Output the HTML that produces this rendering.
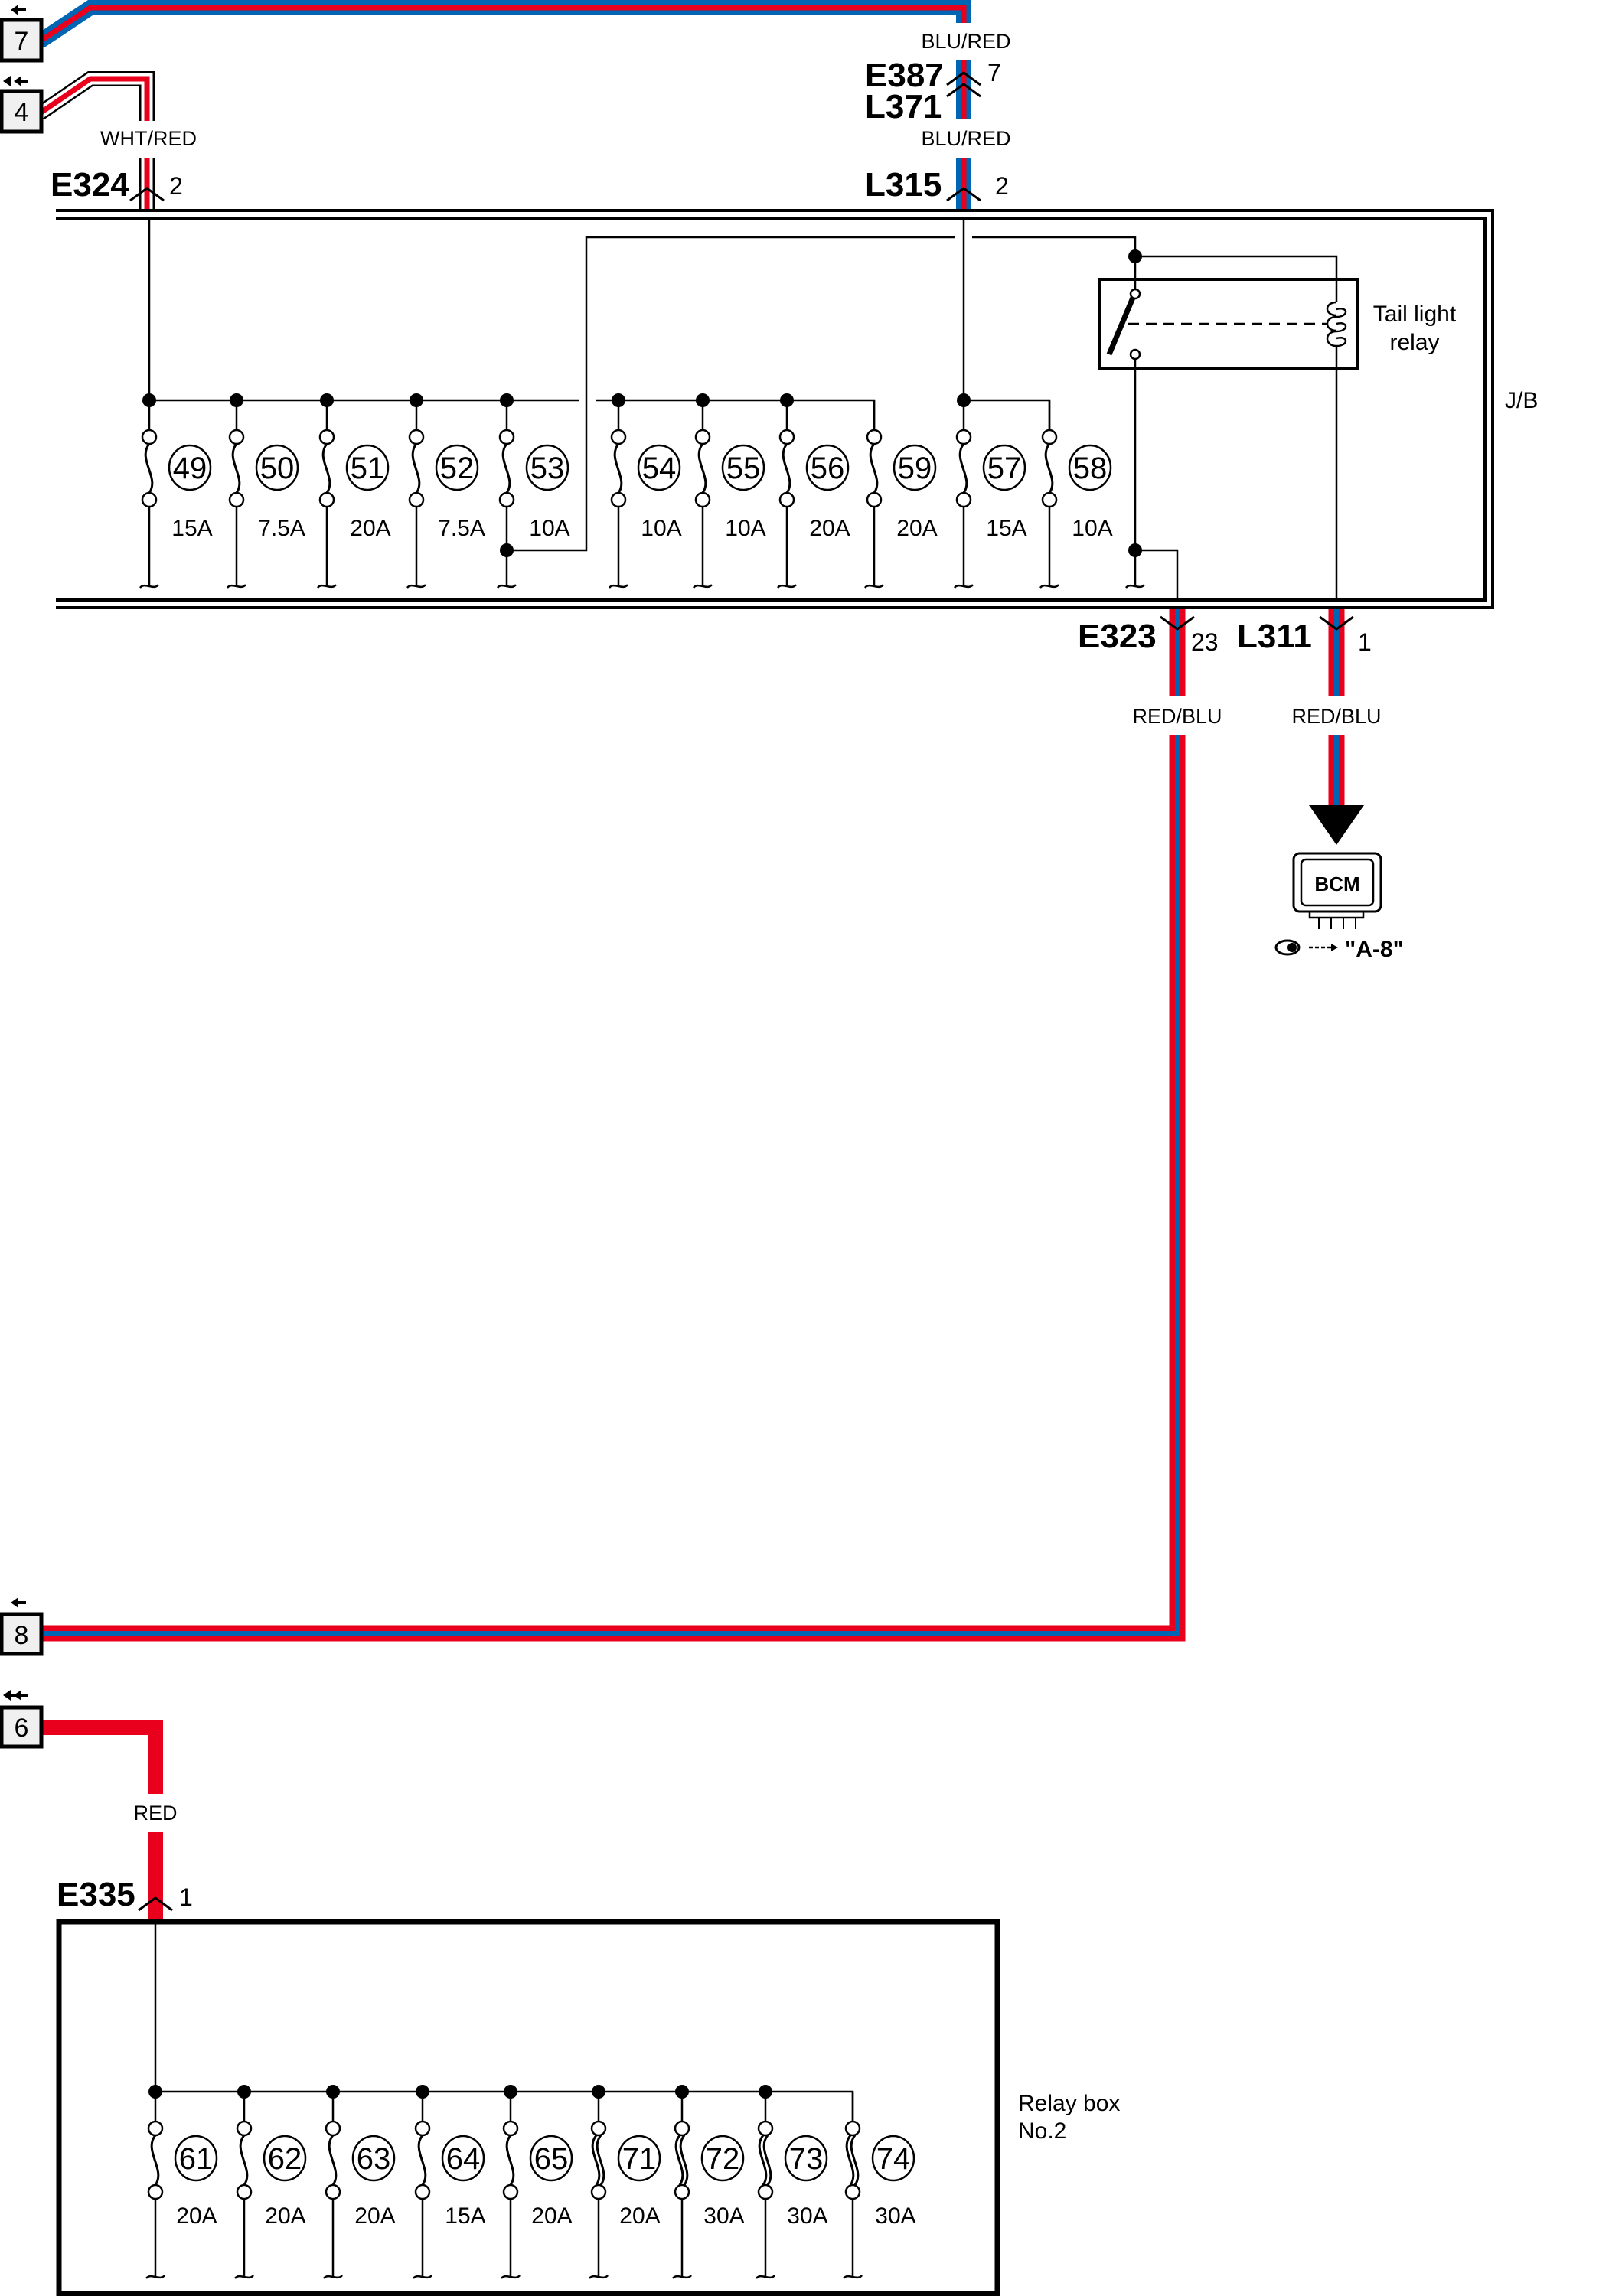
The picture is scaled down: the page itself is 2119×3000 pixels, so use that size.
<!DOCTYPE html>
<html><head><meta charset="utf-8"><style>
html,body{margin:0;padding:0;background:#fff}
svg{display:block}
text{font-family:"Liberation Sans",sans-serif;fill:#000}
</style></head><body>
<svg width="2119" height="3000" viewBox="0 0 2119 3000" xmlns="http://www.w3.org/2000/svg">
<defs>
<g id="fuse">
<line x1="0" y1="523" x2="0" y2="562" stroke="#000" stroke-width="2.5"/>
<path d="M0,580 C-16,600 14,624 0,644" fill="none" stroke="#000" stroke-width="3"/>
<circle cx="0" cy="571" r="9" fill="#fff" stroke="#000" stroke-width="2.5"/>
<circle cx="0" cy="653" r="9" fill="#fff" stroke="#000" stroke-width="2.5"/>
<line x1="0" y1="662" x2="0" y2="765" stroke="#000" stroke-width="2.5"/>
<path d="M-12,768 C-6,760 6,772 12,764" fill="none" stroke="#000" stroke-width="2.5"/>
<ellipse cx="53" cy="611" rx="27" ry="29" fill="#fff" stroke="#000" stroke-width="2.5"/>
</g>
<g id="fuse2">
<line x1="0" y1="2733" x2="0" y2="2772" stroke="#000" stroke-width="2.5"/>
<path d="M0,2790 C-16,2810 14,2835 0,2855" fill="none" stroke="#000" stroke-width="3"/>
<circle cx="0" cy="2781" r="9" fill="#fff" stroke="#000" stroke-width="2.5"/>
<circle cx="0" cy="2864" r="9" fill="#fff" stroke="#000" stroke-width="2.5"/>
<line x1="0" y1="2873" x2="0" y2="2974" stroke="#000" stroke-width="2.5"/>
<path d="M-12,2977 C-6,2969 6,2981 12,2973" fill="none" stroke="#000" stroke-width="2.5"/>
<ellipse cx="53" cy="2820" rx="27" ry="29" fill="#fff" stroke="#000" stroke-width="2.5"/>
</g>
<g id="fuse3">
<line x1="0" y1="2733" x2="0" y2="2772" stroke="#000" stroke-width="2.5"/>
<path d="M-3,2790 C-19,2810 11,2835 -3,2855 M3,2790 C-13,2810 17,2835 3,2855" fill="none" stroke="#000" stroke-width="3"/>
<circle cx="0" cy="2781" r="9" fill="#fff" stroke="#000" stroke-width="2.5"/>
<circle cx="0" cy="2864" r="9" fill="#fff" stroke="#000" stroke-width="2.5"/>
<line x1="0" y1="2873" x2="0" y2="2974" stroke="#000" stroke-width="2.5"/>
<path d="M-12,2977 C-6,2969 6,2981 12,2973" fill="none" stroke="#000" stroke-width="2.5"/>
<ellipse cx="53" cy="2820" rx="27" ry="29" fill="#fff" stroke="#000" stroke-width="2.5"/>
</g>
</defs>

<g fill="none" stroke-linejoin="miter">
<path d="M52,54 L118,10 L1259,10 L1259,30" stroke="#0066b3" stroke-width="20"/>
<path d="M52,54 L118,10 L1259,10 L1259,30" stroke="#e8001c" stroke-width="7"/>
<path d="M1259,79 V156 M1259,207 V274" stroke="#0066b3" stroke-width="20"/>
<path d="M1259,79 V156 M1259,207 V274" stroke="#e8001c" stroke-width="7"/>
<path d="M52,148 L118,103 L192,103 L192,158 M192,207 V274" stroke="#000" stroke-width="20"/>
<path d="M52,148 L118,103 L192,103 L192,158 M192,207 V274" stroke="#fff" stroke-width="15"/>
<path d="M52,148 L118,103 L192,103 L192,158 M192,207 V274" stroke="#e8001c" stroke-width="7"/>
<path d="M1538,794 V910 M1538,960 V2134 H55" stroke="#e8001c" stroke-width="21"/>
<path d="M1538,794 V910 M1538,960 V2134 H55" stroke="#0066b3" stroke-width="6"/>
<path d="M1746,794 V910 M1746,960 V1052" stroke="#e8001c" stroke-width="21"/>
<path d="M1746,794 V910 M1746,960 V1052" stroke="#0066b3" stroke-width="6"/>
<path d="M55,2257 H203 V2344 M203,2394 V2512" stroke="#e8001c" stroke-width="20"/>
</g>

<g fill="#f0f0f0" stroke="#000" stroke-width="5">
<rect x="2" y="26" width="52" height="53"/>
<rect x="2" y="119" width="52" height="53"/>
<rect x="2" y="2109" width="52" height="52"/>
<rect x="2" y="2231" width="52" height="51"/>
</g>
<g font-size="34" text-anchor="middle">
<text x="28" y="65">7</text><text x="28" y="158">4</text>
<text x="28" y="2148">8</text><text x="28" y="2269">6</text>
</g>
<g fill="#000">
<path d="M14,13 l10,-7 v5 h10 v4 h-10 v5z"/>
<path d="M14,2094 l10,-7 v5 h10 v4 h-10 v5z"/>
<path d="M4,2215 l10,-7 v14z M18,2215 l10,-7 v14z M14,2213 h22 v4 h-22z"/>
<path d="M4,106 l10,-7 v14z M18,106 l10,-7 v14z M24,104 h12 v4 h-12z"/>
</g>

<g font-size="27" text-anchor="middle">
<text x="1262" y="63">BLU/RED</text>
<text x="1262" y="190">BLU/RED</text>
<text x="194" y="190">WHT/RED</text>
<text x="1538" y="945">RED/BLU</text>
<text x="1746" y="945">RED/BLU</text>
<text x="203" y="2378">RED</text>
</g>
<g font-size="44" font-weight="bold">
<text x="1130" y="113">E387</text>
<text x="1130" y="154">L371</text>
<text x="66" y="256">E324</text>
<text x="1130" y="256">L315</text>
<text x="1408" y="846">E323</text>
<text x="1616" y="846">L311</text>
<text x="74" y="2490">E335</text>
</g>
<g font-size="32">
<text x="1290" y="106">7</text>
<text x="221" y="254">2</text>
<text x="1300" y="254">2</text>
<text x="1556" y="850">23</text>
<text x="1774" y="850">1</text>
<text x="234" y="2490">1</text>
</g>
<g fill="none" stroke="#000" stroke-width="3">
<path d="M1237,111 L1259,95 L1281,111 M1237,126 L1259,110 L1281,126"/>
<path d="M170,262 L192,246 L214,262"/>
<path d="M1237,262 L1259,246 L1281,262"/>
<path d="M1516,806 L1538,822 L1560,806"/>
<path d="M1724,806 L1746,822 L1768,806"/>
<path d="M181,2496 L203,2480 L225,2496"/>
</g>

<g fill="none" stroke="#000" stroke-width="4">
<path d="M73,275 H1950 V794 H73"/>
<path d="M73,285 H1940 V784 H73"/>
</g>
<text x="1966" y="533" font-size="30">J/B</text>

<g fill="none" stroke="#000" stroke-width="2.5">
<path d="M195,285 V523 H757 M779,523 H1142 V562"/>
<path d="M1259,285 V523 H1371 V562"/>
<path d="M662,719 H766 V310 H1248 M1270,310 H1483 V384"/>
<path d="M1483,335 H1746 V395 M1746,452 V784"/>
<path d="M1483,463 V765 M1483,719 H1538 V784"/>
<path d="M1471,768 C1477,760 1489,772 1495,764"/>
</g>
<g fill="#000">
<circle cx="195" cy="523" r="9"/><circle cx="309" cy="523" r="9"/><circle cx="427" cy="523" r="9"/>
<circle cx="544" cy="523" r="9"/><circle cx="662" cy="523" r="9"/><circle cx="808" cy="523" r="9"/>
<circle cx="918" cy="523" r="9"/><circle cx="1028" cy="523" r="9"/><circle cx="1259" cy="523" r="9"/>
<circle cx="662" cy="719" r="9"/><circle cx="1483" cy="335" r="9"/><circle cx="1483" cy="719" r="9"/>
</g>
<use href="#fuse" x="195"/><use href="#fuse" x="309"/><use href="#fuse" x="427"/><use href="#fuse" x="544"/>
<use href="#fuse" x="662"/><use href="#fuse" x="808"/><use href="#fuse" x="918"/><use href="#fuse" x="1028"/>
<use href="#fuse" x="1142"/><use href="#fuse" x="1259"/><use href="#fuse" x="1371"/>
<g font-size="40" text-anchor="middle">
<text x="248" y="625">49</text><text x="362" y="625">50</text><text x="480" y="625">51</text><text x="597" y="625">52</text>
<text x="715" y="625">53</text><text x="861" y="625">54</text><text x="971" y="625">55</text><text x="1081" y="625">56</text>
<text x="1195" y="625">59</text><text x="1312" y="625">57</text><text x="1424" y="625">58</text>
</g>
<g font-size="30" text-anchor="middle">
<text x="251" y="700">15A</text><text x="368" y="700">7.5A</text><text x="484" y="700">20A</text><text x="603" y="700">7.5A</text>
<text x="718" y="700">10A</text><text x="864" y="700">10A</text><text x="974" y="700">10A</text><text x="1084" y="700">20A</text>
<text x="1198" y="700">20A</text><text x="1315" y="700">15A</text><text x="1427" y="700">10A</text>
</g>

<rect x="1436" y="365" width="337" height="117" fill="none" stroke="#000" stroke-width="4"/>
<line x1="1449" y1="463" x2="1480" y2="389" stroke="#000" stroke-width="7"/>
<line x1="1474" y1="423" x2="1734" y2="423" stroke="#000" stroke-width="2.5" stroke-dasharray="14,9"/>
<circle cx="1483" cy="384" r="6" fill="#fff" stroke="#000" stroke-width="2.5"/>
<circle cx="1483" cy="463" r="6" fill="#fff" stroke="#000" stroke-width="2.5"/>
<g fill="none" stroke="#000" stroke-width="2.5">
<path d="M1746,395 C1730,395 1730,412 1746,412 M1746,404 C1762,400 1762,414 1746,414 C1730,414 1730,432 1746,432 M1746,423 C1762,419 1762,433 1746,433 C1730,433 1730,452 1746,452 M1746,442 C1762,438 1762,452 1746,452"/>
</g>
<g font-size="30" text-anchor="middle">
<text x="1848" y="420">Tail light</text>
<text x="1848" y="457">relay</text>
</g>

<path d="M1710,1052 H1782 L1746,1104Z" fill="#000"/>
<rect x="1690" y="1115" width="114" height="76" rx="8" fill="#fff" stroke="#000" stroke-width="3"/>
<rect x="1700" y="1123" width="94" height="60" rx="6" fill="none" stroke="#000" stroke-width="2.5"/>
<rect x="1711" y="1191" width="70" height="8" fill="none" stroke="#000" stroke-width="2.5"/>
<g stroke="#000" stroke-width="2"><line x1="1723" y1="1199" x2="1723" y2="1214"/><line x1="1739" y1="1199" x2="1739" y2="1214"/><line x1="1755" y1="1199" x2="1755" y2="1214"/><line x1="1771" y1="1199" x2="1771" y2="1214"/></g>
<text x="1747" y="1164" font-size="26" font-weight="bold" text-anchor="middle">BCM</text>
<ellipse cx="1682" cy="1238" rx="15" ry="9" fill="none" stroke="#000" stroke-width="3"/>
<circle cx="1688" cy="1238" r="6" fill="#000"/>
<line x1="1710" y1="1238" x2="1740" y2="1238" stroke="#000" stroke-width="2.5" stroke-dasharray="5,3"/>
<path d="M1739,1233 L1748,1238 L1739,1243Z" fill="#000"/>
<text x="1757" y="1250" font-size="30" font-weight="bold">"A-8"</text>

<rect x="77" y="2511" width="1226" height="486" fill="none" stroke="#000" stroke-width="7"/>
<text x="1330" y="2758" font-size="30">Relay box</text>
<text x="1330" y="2794" font-size="30">No.2</text>
<g fill="none" stroke="#000" stroke-width="2.5"><path d="M203,2514 V2733 H1114 V2772"/></g>
<g fill="#000">
<circle cx="203" cy="2733" r="9"/><circle cx="319" cy="2733" r="9"/><circle cx="435" cy="2733" r="9"/>
<circle cx="552" cy="2733" r="9"/><circle cx="667" cy="2733" r="9"/><circle cx="782" cy="2733" r="9"/>
<circle cx="891" cy="2733" r="9"/><circle cx="1000" cy="2733" r="9"/>
</g>
<use href="#fuse2" x="203"/><use href="#fuse2" x="319"/><use href="#fuse2" x="435"/><use href="#fuse2" x="552"/>
<use href="#fuse2" x="667"/><use href="#fuse3" x="782"/><use href="#fuse3" x="891"/><use href="#fuse3" x="1000"/>
<use href="#fuse3" x="1114"/>
<g font-size="40" text-anchor="middle">
<text x="256" y="2834">61</text><text x="372" y="2834">62</text><text x="488" y="2834">63</text><text x="605" y="2834">64</text>
<text x="720" y="2834">65</text><text x="835" y="2834">71</text><text x="944" y="2834">72</text><text x="1053" y="2834">73</text>
<text x="1167" y="2834">74</text>
</g>
<g font-size="30" text-anchor="middle">
<text x="257" y="2905">20A</text><text x="373" y="2905">20A</text><text x="490" y="2905">20A</text><text x="608" y="2905">15A</text>
<text x="721" y="2905">20A</text><text x="836" y="2905">20A</text><text x="946" y="2905">30A</text><text x="1055" y="2905">30A</text>
<text x="1170" y="2905">30A</text>
</g>
</svg>
</body></html>
